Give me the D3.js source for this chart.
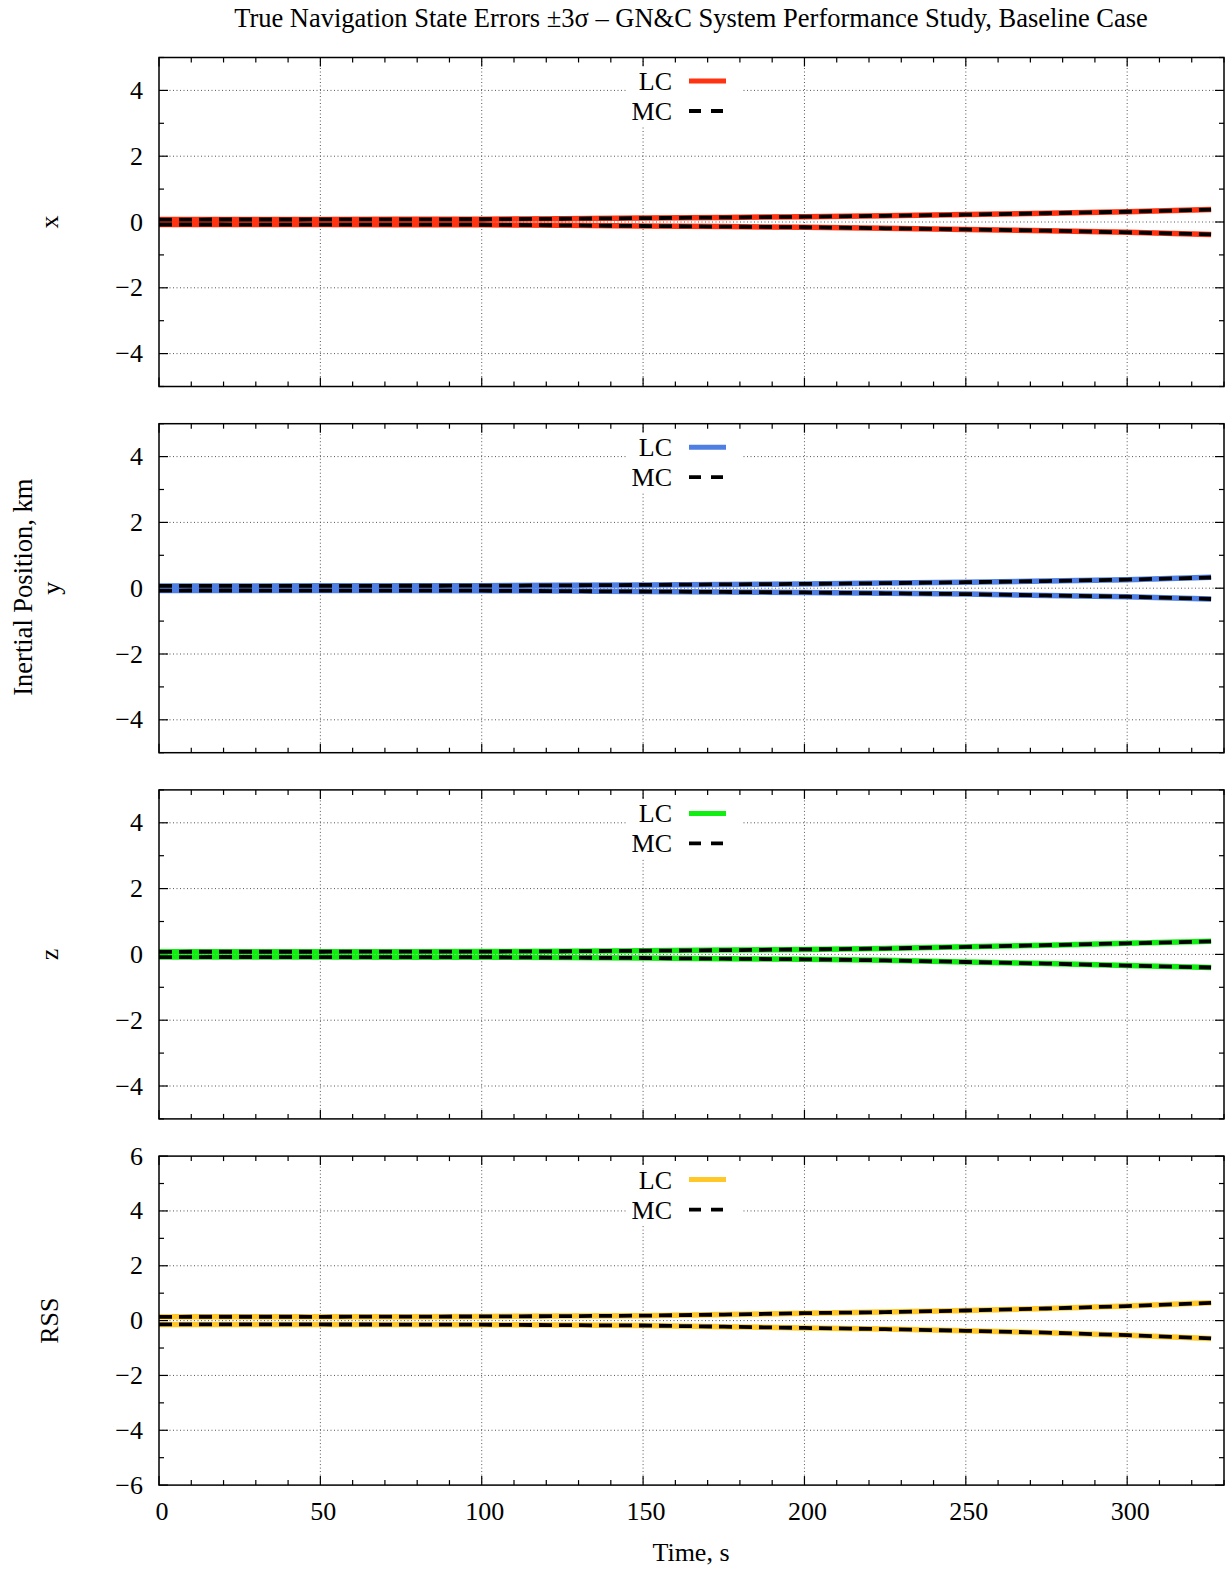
<!DOCTYPE html>
<html>
<head>
<meta charset="utf-8">
<script src="https://cdn.jsdelivr.net/npm/d3@7"></script>
<style>
  html, body { margin: 0; padding: 0; background: #fff; }
  text { font-family: "Liberation Serif", "Times New Roman", serif; fill: #000; }
</style>
</head>
<body>
<svg id="chart" width="1230" height="1570"></svg>
<script>
// ---------------- DATA ----------------
const titleText = "True Navigation State Errors \u00B13\u03C3 \u2013 GN&C System Performance Study, Baseline Case";
const xLabel = "Time, s";
const panelNames = ["x", "y", "z", "RSS"];
const panelColors = ["#ff3311", "#4f7fe3", "#11ee11", "#ffc728"];
const legendLabels = ["LC", "MC"];
const xTicks = [0, 50, 100, 150, 200, 250, 300];

const time = [0, 25, 50, 75, 100, 125, 150, 175, 200, 225, 250, 275, 300, 326];

// x component (km)
const xLCup  = [0.075, 0.076, 0.078, 0.080, 0.083, 0.100, 0.120, 0.140, 0.160, 0.190, 0.225, 0.265, 0.315, 0.380];
const xLClo  = [-0.075, -0.076, -0.078, -0.080, -0.083, -0.100, -0.120, -0.140, -0.160, -0.190, -0.225, -0.265, -0.315, -0.380];
const xMCup  = [0.074, 0.076, 0.077, 0.080, 0.084, 0.099, 0.118, 0.139, 0.161, 0.188, 0.223, 0.266, 0.312, 0.375];
const xMClo  = [-0.076, -0.077, -0.078, -0.081, -0.083, -0.101, -0.121, -0.141, -0.159, -0.191, -0.226, -0.263, -0.316, -0.378];
// y component (km)
const yLCup  = [0.070, 0.070, 0.072, 0.073, 0.075, 0.088, 0.100, 0.115, 0.130, 0.155, 0.180, 0.220, 0.260, 0.330];
const yLClo  = [-0.070, -0.070, -0.072, -0.073, -0.075, -0.088, -0.100, -0.115, -0.130, -0.155, -0.180, -0.220, -0.260, -0.330];
const yMCup  = [0.069, 0.071, 0.071, 0.074, 0.076, 0.087, 0.099, 0.116, 0.131, 0.153, 0.182, 0.218, 0.262, 0.325];
const yMClo  = [-0.071, -0.070, -0.073, -0.072, -0.076, -0.089, -0.101, -0.114, -0.129, -0.156, -0.179, -0.221, -0.258, -0.328];
// z component (km)
const zLCup  = [0.080, 0.080, 0.082, 0.083, 0.085, 0.097, 0.110, 0.130, 0.150, 0.180, 0.230, 0.280, 0.340, 0.400];
const zLClo  = [-0.080, -0.080, -0.082, -0.083, -0.085, -0.097, -0.110, -0.130, -0.150, -0.180, -0.230, -0.280, -0.340, -0.400];
const zMCup  = [0.079, 0.081, 0.081, 0.084, 0.086, 0.096, 0.111, 0.128, 0.152, 0.178, 0.228, 0.282, 0.337, 0.395];
const zMClo  = [-0.081, -0.079, -0.083, -0.082, -0.084, -0.098, -0.109, -0.131, -0.149, -0.182, -0.231, -0.279, -0.342, -0.398];
// RSS (km)
const rLCup  = [0.140, 0.140, 0.140, 0.145, 0.150, 0.165, 0.180, 0.220, 0.270, 0.310, 0.370, 0.440, 0.530, 0.650];
const rLClo  = [-0.140, -0.140, -0.140, -0.145, -0.150, -0.165, -0.180, -0.220, -0.270, -0.310, -0.370, -0.440, -0.530, -0.650];
const rMCup  = [0.139, 0.141, 0.139, 0.146, 0.151, 0.163, 0.181, 0.218, 0.272, 0.308, 0.368, 0.442, 0.527, 0.645];
const rMClo  = [-0.141, -0.139, -0.141, -0.144, -0.149, -0.166, -0.179, -0.222, -0.268, -0.312, -0.372, -0.438, -0.532, -0.648];

const panelData = [
  { lc: [xLCup, xLClo], mc: [xMCup, xMClo], yMax: 5, yTicks: [-4, -2, 0, 2, 4] },
  { lc: [yLCup, yLClo], mc: [yMCup, yMClo], yMax: 5, yTicks: [-4, -2, 0, 2, 4] },
  { lc: [zLCup, zLClo], mc: [zMCup, zMClo], yMax: 5, yTicks: [-4, -2, 0, 2, 4] },
  { lc: [rLCup, rLClo], mc: [rMCup, rMClo], yMax: 6, yTicks: [-6, -4, -2, 0, 2, 4, 6] }
];

// ---------------- LAYOUT ----------------
const svg = d3.select("#chart");
const left = 159, right = 1224;
const panelTop0 = 57.5, panelStep = 366.2, panelH = 329;
const fs = "26px";

const x = d3.scaleLinear().domain([0, 330]).range([left, right]);
const fmt = v => (v < 0 ? "\u2212" + Math.abs(v) : String(v));

svg.append("text")
  .attr("x", 691).attr("y", 27)
  .attr("text-anchor", "middle")
  .style("font-size", "26.5px")
  .text(titleText);

panelData.forEach((p, i) => {
  const top = panelTop0 + i * panelStep;
  const bottom = top + panelH;
  const y = d3.scaleLinear().domain([-p.yMax, p.yMax]).range([bottom, top]);
  const g = svg.append("g");

  // grid
  const gridStyle = sel => sel.attr("stroke", "#555").attr("stroke-width", 1).attr("stroke-dasharray", "1,2.5");
  g.selectAll(".vg").data(xTicks.filter(t => t > 0)).enter().append("line")
    .attr("x1", d => x(d)).attr("x2", d => x(d)).attr("y1", top).attr("y2", bottom).call(gridStyle);
  g.selectAll(".hg").data(p.yTicks.filter(t => Math.abs(t) < p.yMax)).enter().append("line")
    .attr("x1", left).attr("x2", right).attr("y1", d => y(d)).attr("y2", d => y(d)).call(gridStyle);

  // ticks (inward, mirrored)
  const xMinor = d3.range(0, 331, 10);
  const yMinor = d3.range(-p.yMax, p.yMax + 1, 1);
  const tk = g.append("g").attr("stroke", "#000").attr("stroke-width", 1.2);
  xMinor.forEach(t => {
    const len = (t % 50 === 0) ? 9 : 5;
    tk.append("line").attr("x1", x(t)).attr("x2", x(t)).attr("y1", bottom).attr("y2", bottom - len);
    tk.append("line").attr("x1", x(t)).attr("x2", x(t)).attr("y1", top).attr("y2", top + len);
  });
  yMinor.forEach(t => {
    const len = (t % 2 === 0) ? 9 : 5;
    tk.append("line").attr("x1", left).attr("x2", left + len).attr("y1", y(t)).attr("y2", y(t));
    tk.append("line").attr("x1", right).attr("x2", right - len).attr("y1", y(t)).attr("y2", y(t));
  });

  // y tick labels
  g.selectAll(".yl").data(p.yTicks).enter().append("text")
    .attr("x", 143).attr("y", d => y(d) + 8.5)
    .attr("text-anchor", "end")
    .style("font-size", fs)
    .text(fmt);

  // lines
  const line = arr => d3.line().x((d, k) => x(time[k])).y(d => y(d))(arr);
  p.lc.forEach(arr => {
    g.append("path").attr("d", line(arr)).attr("fill", "none")
      .attr("stroke", panelColors[i]).attr("stroke-width", 5.5);
  });
  p.mc.forEach(arr => {
    g.append("path").attr("d", line(arr)).attr("fill", "none")
      .attr("stroke", "#000").attr("stroke-width", 3.8)
      .attr("stroke-dasharray", "13,7");
  });

  // legend
  const lgTop = top + 9;
  g.append("rect").attr("x", 626).attr("y", lgTop).attr("width", 116).attr("height", 60).attr("fill", "#fff");
  g.append("text").attr("x", 672).attr("y", top + 32.5).attr("text-anchor", "end")
    .style("font-size", fs).text(legendLabels[0]);
  g.append("line").attr("x1", 689).attr("x2", 726).attr("y1", top + 23.5).attr("y2", top + 23.5)
    .attr("stroke", panelColors[i]).attr("stroke-width", 5);
  g.append("text").attr("x", 672).attr("y", top + 62.5).attr("text-anchor", "end")
    .style("font-size", fs).text(legendLabels[1]);
  g.append("line").attr("x1", 689).attr("x2", 723).attr("y1", top + 53.5).attr("y2", top + 53.5)
    .attr("stroke", "#000").attr("stroke-width", 3.8).attr("stroke-dasharray", "12,10");

  // frame
  g.append("rect").attr("x", left).attr("y", top).attr("width", right - left).attr("height", panelH)
    .attr("fill", "none").attr("stroke", "#000").attr("stroke-width", 1.5);

  // panel label
  const cy = (top + bottom) / 2;
  g.append("text")
    .attr("transform", `translate(${i === 1 ? 60 : (i === 3 ? 58 : 58)},${cy}) rotate(-90)`)
    .attr("text-anchor", "middle")
    .style("font-size", fs)
    .text(panelNames[i]);

  // x tick labels only bottom
  if (i === panelData.length - 1) {
    g.selectAll(".xl").data(xTicks).enter().append("text")
      .attr("x", d => x(d) + 3).attr("y", bottom + 35)
      .attr("text-anchor", "middle")
      .style("font-size", fs)
      .text(d => d);
  }
});

// common y label
svg.append("text")
  .attr("transform", `translate(32,${panelTop0 + panelStep + panelH / 2 - 1}) rotate(-90)`)
  .attr("text-anchor", "middle")
  .style("font-size", "26.5px")
  .text("Inertial Position, km");

// x label
svg.append("text")
  .attr("x", 691).attr("y", 1561)
  .attr("text-anchor", "middle")
  .style("font-size", fs)
  .text(xLabel);
</script>
</body>
</html>
